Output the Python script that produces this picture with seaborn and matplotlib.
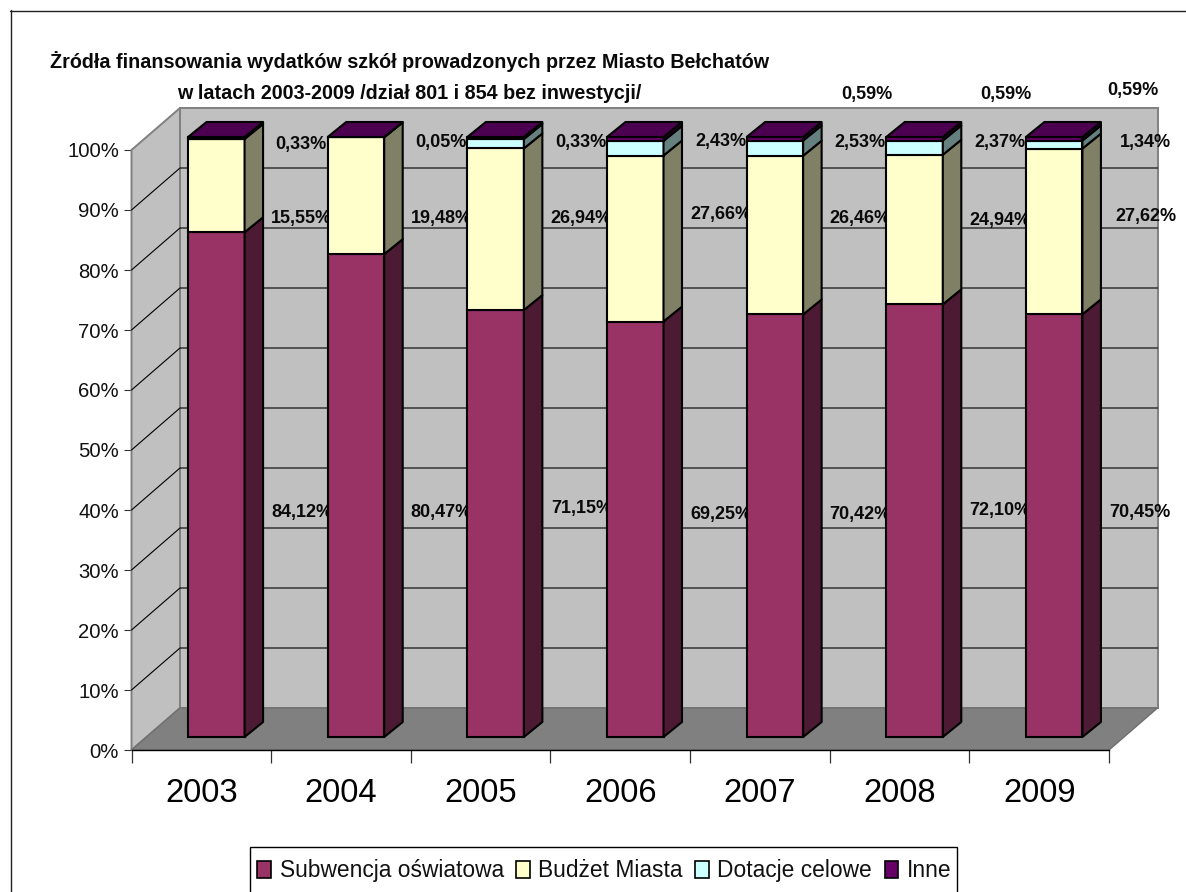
import numpy as np
import pandas as pd
import matplotlib
matplotlib.use("Agg")
import matplotlib.pyplot as plt
from matplotlib.patches import Polygon, Patch, Rectangle
from matplotlib.lines import Line2D
from matplotlib.transforms import Affine2D
import seaborn as sns

# ---------- data ----------
years = ["2003", "2004", "2005", "2006", "2007", "2008", "2009"]
subwencja = [84.12, 80.47, 71.15, 69.25, 70.42, 72.10, 70.45]
budzet = [15.55, 19.48, 26.94, 27.66, 26.46, 24.94, 27.62]
dotacje = [0.0, 0.0, 1.58, 2.43, 2.53, 2.37, 1.34]
inne = [0.33, 0.05, 0.33, 0.66, 0.59, 0.59, 0.59]
series_names = ["Subwencja oświatowa", "Budżet Miasta", "Dotacje celowe", "Inne"]

labels_row1 = ["84,12%", "80,47%", "71,15%", "69,25%", "70,42%", "72,10%", "70,45%"]
labels_row2 = ["15,55%", "19,48%", "26,94%", "27,66%", "26,46%", "24,94%", "27,62%"]
labels_row3 = ["0,33%", "0,05%", "0,33%", "2,43%", "2,53%", "2,37%", "1,34%"]
labels_top = ["0,59%", "0,59%", "0,59%"]

title = ("Żródła finansowania wydatków szkół prowadzonych przez Miasto Bełchatów\n"
         "w latach 2003-2009 /dział 801 i 854 bez inwestycji/")

# ---------- styles and layout ----------
W, H = 1186, 892
front = ["#993366", "#FFFFCC", "#CCFFFF", "#660066"]
side = ["#4D1A33", "#808066", "#668080", "#330033"]
top_color = "#4C0050"
wall_c, floor_c = "#C0C0C0", "#808080"

sns.set_theme(style="white")
plt.rcParams["font.family"] = ["Liberation Sans", "DejaVu Sans"]

fig = plt.figure(figsize=(W / 100, H / 100), dpi=100, facecolor="white")
ax = fig.add_axes([131.5 / W, (H - 750) / H, 977.5 / W, 600 / H])
ax.patch.set_visible(False)

x0, x1 = -0.5, 6.5
wall_dx, wall_dy = 48.5 / 139.64, 7.0       # depth of the chart box, data units
bar_dx, bar_dy = 15.0 / 139.64, 13.0 / 6    # bars sit inside the box
depth_dx, depth_dy = 18.5 / 139.64, 15.0 / 6
bar_w = 56.5 / 139.64
ymax = 100


def px(x, y):
    return x / W, 1 - y / H


# walls and floor
ax.add_patch(Polygon([(x0, 0), (x0 + wall_dx, wall_dy), (x0 + wall_dx, ymax + wall_dy), (x0, ymax)],
                     fc=wall_c, ec=floor_c, lw=1.4, clip_on=False, zorder=1))
ax.add_patch(Rectangle((x0 + wall_dx, wall_dy), x1 - x0, ymax, fc=wall_c, ec=floor_c, lw=1.4,
                       clip_on=False, zorder=1))
ax.add_patch(Polygon([(x0, 0), (x0 + wall_dx, wall_dy), (x1 + wall_dx, wall_dy), (x1, 0)],
                     fc=floor_c, ec="#707070", lw=1.0, clip_on=False, zorder=1.2))
for level in np.arange(10, 100, 10):
    ax.plot([x0, x0 + wall_dx, x1 + wall_dx], [level, level + wall_dy, level + wall_dy],
            color="black", lw=0.8, clip_on=False, zorder=1.5)

# stacked bars
df = pd.DataFrame({"year": years, "Subwencja": subwencja, "Budzet": budzet,
                   "Dotacje": dotacje, "Inne": inne})
shift = Affine2D().translate(bar_dx, bar_dy) + ax.transData
bottom = np.zeros(len(years))
for k, col in enumerate(["Subwencja", "Budzet", "Dotacje", "Inne"]):
    n_before = len(ax.patches)
    sns.barplot(data=df, x="year", y=col, order=years, color=front[k], saturation=1,
                width=bar_w, bottom=bottom, edgecolor="black", linewidth=1.5, ax=ax, zorder=3)
    for bar in ax.patches[n_before:]:
        bar.set_transform(shift)
        bar.set_clip_on(False)
    vals = df[col].to_numpy()
    for i in range(len(years)):
        if vals[i] <= 0:
            continue
        xr = i + bar_dx + bar_w / 2
        y0 = bottom[i] + bar_dy
        y1 = y0 + vals[i]
        ax.add_patch(Polygon([(xr, y0), (xr + depth_dx, y0 + depth_dy),
                              (xr + depth_dx, y1 + depth_dy), (xr, y1)],
                             fc=side[k], ec="black", lw=1.5, joinstyle="round",
                             clip_on=False, zorder=3))
    bottom = bottom + vals

# bar tops
for i in range(len(years)):
    xl = i + bar_dx - bar_w / 2
    xr = i + bar_dx + bar_w / 2
    yt = bottom[i] + bar_dy
    ax.add_patch(Polygon([(xl, yt), (xr, yt), (xr + depth_dx, yt + depth_dy),
                          (xl + depth_dx, yt + depth_dy)],
                         fc=top_color, ec="black", lw=1.5, clip_on=False, zorder=3.1))

# axes
ax.set_xlim(x0, x1)
ax.set_ylim(0, ymax)
ax.set_xlabel("")
ax.set_ylabel("")
ax.set_yticks(np.arange(0, 101, 10))
ax.set_yticklabels([f"{v}%" for v in range(0, 101, 10)], fontsize=14.6, color="#111111")
ax.tick_params(axis="y", left=True, length=6, width=0.8, color="#333333", pad=3)
ax.set_xticks(range(len(years)))
ax.set_xticklabels(years, fontsize=23.6, color="black")
ax.set_xticks(np.arange(x0, x1 + 1), minor=True)
ax.tick_params(axis="x", which="major", bottom=False, length=0, pad=20.5)
ax.tick_params(axis="x", which="minor", bottom=True, length=9.5, width=0.9, color="#333333")
for s in ["top", "right", "left"]:
    ax.spines[s].set_visible(False)
ax.spines["bottom"].set_visible(True)
ax.spines["bottom"].set_color("black")
ax.spines["bottom"].set_linewidth(1.0)
ax.spines["bottom"].set_zorder(2)
ax.grid(False)

# title
fig.suptitle(title, x=409.5 / W, y=1 - 77 / H, va="center", ha="center",
             fontsize=14.2, fontweight="bold", color="#0a0a0a", linespacing=1.75)

# data labels (pixel anchors); they sit between the wall and the bars
row1_xy = [(302, 512), (441, 512), (582, 508), (721, 515), (860, 515), (1000, 511), (1140, 513)]
row2_xy = [(301, 219), (441, 219), (581, 219), (721, 215), (860, 219), (1000, 221), (1146, 216)]
row3_xy = [(301, 145), (441, 143), (581, 142), (721, 141), (860, 142), (1000, 143), (1145, 143)]
top_xy = [(867, 95), (1006, 95), (1133, 91)]
for texts, xy in [(labels_row1, row1_xy), (labels_row2, row2_xy), (labels_row3, row3_xy), (labels_top, top_xy)]:
    for t, (x, y) in zip(texts, xy):
        ax.text(*px(x, y), t, transform=fig.transFigure, ha="center", va="center", fontsize=13,
                fontweight="bold", color="#0a0a0a", zorder=2.5, clip_on=False)

# outer frame: only the top and left edges fall on the canvas
fig.add_artist(Line2D([10 / W, 1], [1 - 10.5 / H] * 2, color="#222222", lw=1.0))
fig.add_artist(Line2D([10.5 / W] * 2, [1 - 10 / H, 0], color="#222222", lw=1.0))

# legend: its box runs past the bottom edge of the canvas
lx0, ly0 = px(249.5, 846.5)
lx1, ly1 = px(957, 905)
fig.add_artist(Rectangle((lx0, ly1), lx1 - lx0, ly0 - ly1, transform=fig.transFigure,
                         fc="white", ec="black", lw=1.0, zorder=4))
handles = [Patch(fc=c, ec="black", lw=1.2) for c in front]
leg = fig.legend(handles, series_names, loc="upper left", bbox_to_anchor=px(246.5, 848.5),
                 ncol=4, fontsize=16.4, frameon=False, borderaxespad=0, borderpad=0.48,
                 handlelength=0.6, handleheight=0.75, handletextpad=0.37, columnspacing=0.55)
leg.set_zorder(5)
for t in leg.get_texts():
    t.set_color("#111111")

fig.savefig("out.png", dpi=100)
